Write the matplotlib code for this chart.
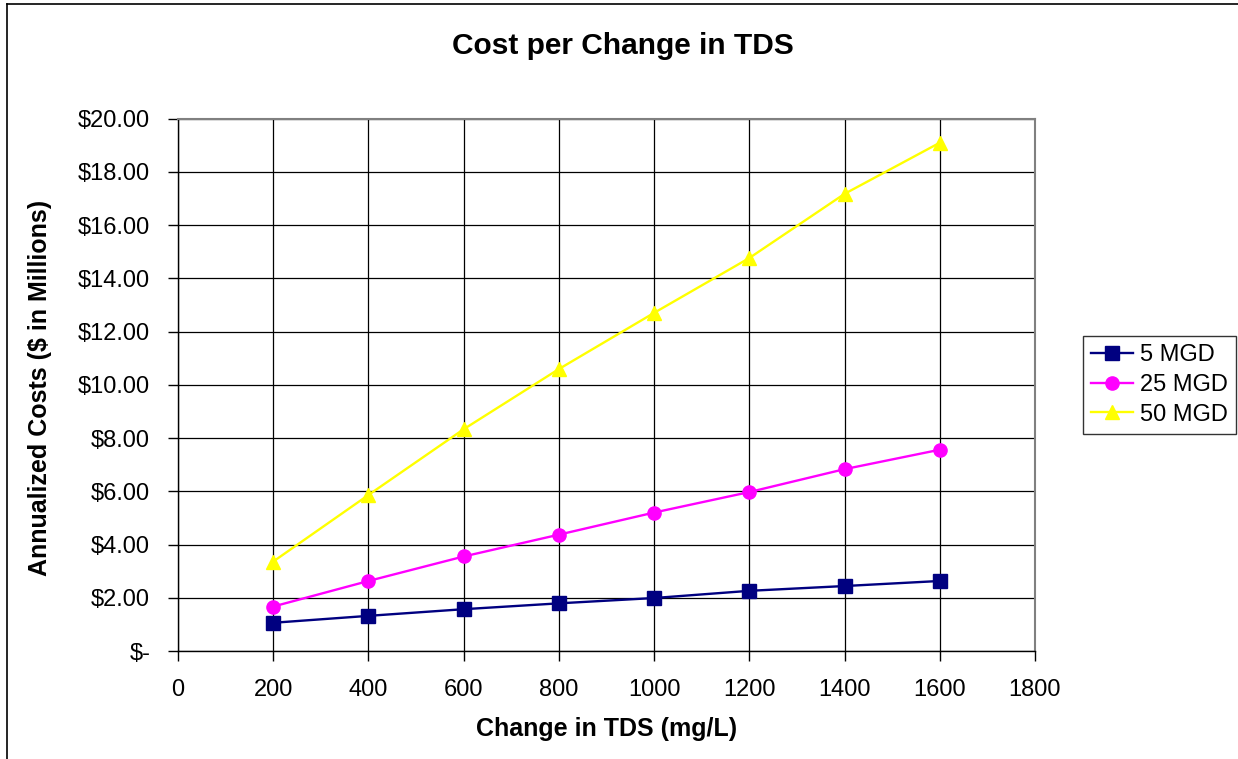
import matplotlib.pyplot as plt
from matplotlib.lines import Line2D
from matplotlib.ticker import FuncFormatter, MultipleLocator

plt.rcParams['font.family'] = ['Liberation Sans', 'DejaVu Sans']

tds_change = [200, 400, 600, 800, 1000, 1200, 1400, 1600]
cost_5mgd = [1.06, 1.32, 1.57, 1.79, 1.99, 2.26, 2.44, 2.63]
cost_25mgd = [1.67, 2.63, 3.55, 4.37, 5.20, 5.97, 6.83, 7.56]
cost_50mgd = [3.36, 5.86, 8.33, 10.59, 12.70, 14.76, 17.17, 19.09]
series_names = ['5 MGD', '25 MGD', '50 MGD']

W, H = 1238, 759
fig = plt.figure(figsize=(W / 100, H / 100), dpi=100)
ax = fig.add_axes([178 / W, 1 - 651 / H, (1035 - 178) / W, (651 - 118.5) / H])

ax.plot(tds_change, cost_5mgd, color='#000080', lw=1.7, marker='s', ms=10.5,
        label=series_names[0])
ax.plot(tds_change, cost_25mgd, color='#FF00FF', lw=1.7, marker='o', ms=9.5,
        label=series_names[1])
ax.plot(tds_change, cost_50mgd, color='#FFFF00', lw=1.7, marker='^', ms=10.5,
        label=series_names[2])

ax.set_xlim(0, 1800)
ax.set_ylim(0, 20)
ax.xaxis.set_major_locator(MultipleLocator(200))
ax.yaxis.set_major_locator(MultipleLocator(2))


def dollars(v, pos):
    if abs(v) < 1e-9:
        return '$-'
    return f'${v:.2f}'


ax.yaxis.set_major_formatter(FuncFormatter(dollars))
ax.grid(True, color='black', lw=0.9)
ax.set_axisbelow(True)
ax.tick_params(axis='both', direction='out', length=7, width=1, labelsize=17)
ax.tick_params(axis='y', pad=13)
ax.tick_params(axis='x', pad=13)
for side in ['top', 'right']:
    ax.spines[side].set_color('#808080')
    ax.spines[side].set_linewidth(1.5)
for side in ['left', 'bottom']:
    ax.spines[side].set_color('black')
    ax.spines[side].set_linewidth(1)

fig.text(623 / W, 1 - 46 / H, 'Cost per Change in TDS', ha='center', va='center',
         fontsize=21.5, fontweight='bold')
fig.text(607 / W, 1 - 729 / H, 'Change in TDS (mg/L)', ha='center', va='center',
         fontsize=18, fontweight='bold')
fig.text(40 / W, 1 - 388 / H, 'Annualized Costs ($ in Millions)', ha='center',
         va='center', rotation=90, fontsize=18, fontweight='bold')

leg = ax.legend(loc='center left', bbox_to_anchor=(1083 / W, 1 - 385 / H),
                bbox_transform=fig.transFigure, frameon=True, fancybox=False,
                fontsize=17, handlelength=1.75, handletextpad=0.3,
                borderpad=0.35, labelspacing=0.32, borderaxespad=0)
leg.get_frame().set_edgecolor('black')
leg.get_frame().set_linewidth(1)

# outer chart frame
fig.add_artist(Line2D([7 / W, 7 / W], [0, 1 - 4 / H], color='black', lw=1.2,
                      transform=fig.transFigure))
fig.add_artist(Line2D([7 / W, 1], [1 - 4 / H, 1 - 4 / H], color='black', lw=1.2,
                      transform=fig.transFigure))

fig.savefig('out.png', dpi=100)
